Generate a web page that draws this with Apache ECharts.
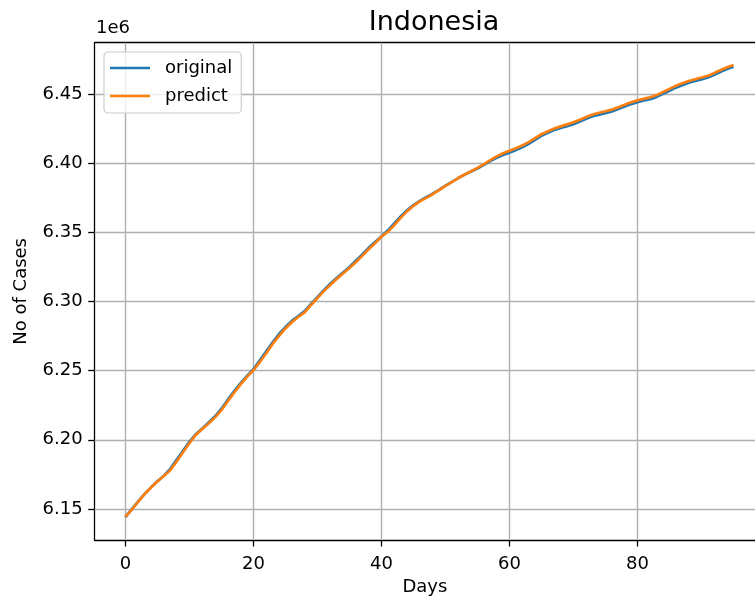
<!DOCTYPE html>
<html>
<head>
<meta charset="utf-8">
<script src="https://cdn.jsdelivr.net/npm/echarts@6/dist/echarts.min.js"></script>
<style>
  html, body { margin: 0; padding: 0; background: #fff; }
  #chart { width: 755px; height: 601px; }
</style>
</head>
<body>
<div id="chart"></div>
<script>
// Cumulative cases (in millions) for days 0..95
const days = Array.from({ length: 96 }, (_, i) => i);

const original = [
  6.1440, 6.1498, 6.1555, 6.1608, 6.1656, 6.1700, 6.1740, 6.1790, 6.1855, 6.1920,
  6.1985, 6.2040, 6.2082, 6.2125, 6.2170, 6.2225, 6.2290, 6.2352, 6.2410, 6.2462,
  6.2510, 6.2575, 6.2640, 6.2705, 6.2765, 6.2815, 6.2860, 6.2895, 6.2930, 6.2982,
  6.3032, 6.3082, 6.3128, 6.3170, 6.3210, 6.3250, 6.3295, 6.3340, 6.3388, 6.3430,
  6.3470, 6.3515, 6.3565, 6.3615, 6.3660, 6.3698, 6.3728, 6.3755, 6.3780, 6.3808,
  6.3838, 6.3865, 6.3893, 6.3918, 6.3940, 6.3962, 6.3988, 6.4015, 6.4040, 6.4060,
  6.4077, 6.4095, 6.4115, 6.4140, 6.4170, 6.4198, 6.4220, 6.4240, 6.4255, 6.4268,
  6.4283, 6.4302, 6.4322, 6.4340, 6.4352, 6.4363, 6.4375, 6.4392, 6.4410, 6.4428,
  6.4442, 6.4454, 6.4464, 6.4480, 6.4502, 6.4525, 6.4547, 6.4565, 6.4582, 6.4595,
  6.4607, 6.4620, 6.4640, 6.4662, 6.4682, 6.4699
];

const predict = [
  6.1442, 6.1495, 6.1552, 6.1606, 6.1655, 6.1698, 6.1738, 6.1780, 6.1842, 6.1910,
  6.1975, 6.2035, 6.2078, 6.2118, 6.2162, 6.2214, 6.2278, 6.2342, 6.2400, 6.2455,
  6.2503, 6.2562, 6.2626, 6.2693, 6.2752, 6.2805, 6.2850, 6.2888, 6.2922, 6.2975,
  6.3025, 6.3075, 6.3120, 6.3162, 6.3203, 6.3242, 6.3284, 6.3330, 6.3378, 6.3422,
  6.3468, 6.3505, 6.3552, 6.3605, 6.3652, 6.3692, 6.3724, 6.3750, 6.3776, 6.3805,
  6.3836, 6.3864, 6.3893, 6.3919, 6.3942, 6.3966, 6.3994, 6.4022, 6.4050, 6.4072,
  6.4090, 6.4108, 6.4128, 6.4153, 6.4182, 6.4210, 6.4232, 6.4252, 6.4267, 6.4281,
  6.4296, 6.4315, 6.4335, 6.4353, 6.4365, 6.4376, 6.4388, 6.4405, 6.4423, 6.4441,
  6.4455, 6.4467, 6.4477, 6.4493, 6.4515, 6.4538, 6.4560, 6.4578, 6.4595, 6.4608,
  6.4620, 6.4633, 6.4653, 6.4675, 6.4695, 6.4711
];

const xTicks = [0, 20, 40, 60, 80];
const yTicks = [6.15, 6.20, 6.25, 6.30, 6.35, 6.40, 6.45];

const FONT = 'DejaVu Sans';
const GRID_COLOR = '#b0b0b0';
const AXIS_LINE = { color: '#000', width: 1.3 };

const chart = echarts.init(document.getElementById('chart'), null, { renderer: 'canvas' });

chart.setOption({
  animation: false,
  backgroundColor: '#ffffff',
  textStyle: { fontFamily: FONT },
  title: {
    text: 'Indonesia',
    left: 429, top: 4,
    textAlign: 'center',
    textStyle: { fontFamily: FONT, fontSize: 27, fontWeight: 'normal', color: '#000' }
  },
  graphic: [{
    type: 'text', left: 96, top: 19,
    style: { text: '1e6', font: '18px "DejaVu Sans"', fill: '#000' }
  }],
  legend: {
    data: ['original', 'predict'],
    orient: 'vertical',
    left: 104, top: 52,
    padding: [6, 9, 7, 6],
    itemGap: 8,
    itemWidth: 40, itemHeight: 2.7,
    icon: 'rect',
    backgroundColor: 'rgba(255,255,255,0.8)',
    borderColor: '#cccccc', borderWidth: 1.2, borderRadius: 4,
    textStyle: { fontFamily: FONT, fontSize: 18, color: '#000', lineHeight: 20, padding: [0, 0, 0, 10] }
  },
  grid: {
    left: 94.7, top: 42.7, right: 0, height: 499, show: false
  },
  xAxis: [{
    type: 'value', min: -4.8, max: 98.36,
    name: 'Days', nameLocation: 'middle', nameGap: 38,
    nameTextStyle: { fontFamily: FONT, fontSize: 18, color: '#000' },
    axisLine: { show: true, onZero: false, lineStyle: AXIS_LINE },
    axisTick: { show: true, length: 6.5, customValues: xTicks, lineStyle: AXIS_LINE },
    axisLabel: { customValues: xTicks, margin: 15, fontFamily: FONT, fontSize: 18, color: '#000' },
    splitLine: { show: false }
  }, {
    // top frame line
    type: 'value', position: 'top', min: -4.8, max: 98.36,
    axisLine: { show: true, onZero: false, lineStyle: AXIS_LINE },
    axisTick: { show: false }, axisLabel: { show: false }, splitLine: { show: false }
  }],
  yAxis: {
    type: 'value', min: 6.1275, max: 6.4872,
    name: 'No of Cases', nameLocation: 'middle', nameGap: 64, nameRotate: 90,
    nameTextStyle: { fontFamily: FONT, fontSize: 18, color: '#000' },
    axisLine: { show: true, onZero: false, lineStyle: AXIS_LINE },
    axisTick: { show: true, length: 6.5, customValues: yTicks, lineStyle: AXIS_LINE },
    axisLabel: {
      customValues: yTicks, margin: 12, fontFamily: FONT, fontSize: 18, color: '#000',
      formatter: v => v.toFixed(2)
    },
    splitLine: { show: false }
  },
  series: [
    {
      // grid lines at the tick positions
      name: 'gridlines', type: 'line', data: [], silent: true, z: 1,
      markLine: {
        silent: true, symbol: ['none', 'none'], z: 1, animation: false,
        label: { show: false },
        lineStyle: { color: GRID_COLOR, width: 1.4, type: 'solid' },
        emphasis: { disabled: true },
        data: xTicks.map(v => ({ xAxis: v })).concat(yTicks.map(v => ({ yAxis: v })))
      }
    },
    {
      name: 'original', type: 'line', z: 3,
      data: days.map((d, i) => [d, original[i]]),
      showSymbol: false, color: '#1f77b4',
      lineStyle: { width: 2.7, color: '#1f77b4' }
    },
    {
      name: 'predict', type: 'line', z: 4,
      data: days.map((d, i) => [d, predict[i]]),
      showSymbol: false, color: '#ff7f0e',
      lineStyle: { width: 2.7, color: '#ff7f0e' }
    }
  ]
});
</script>
</body>
</html>
